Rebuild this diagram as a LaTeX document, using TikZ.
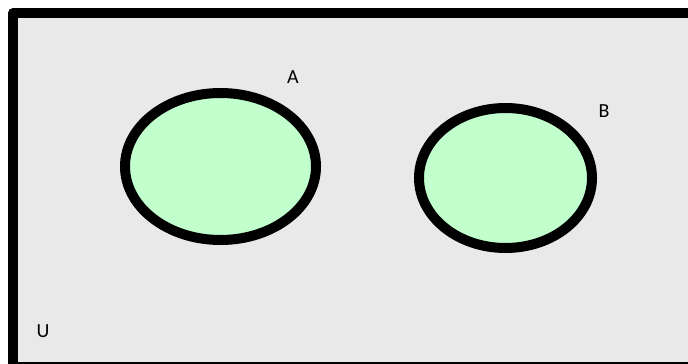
\documentclass[tikz,border=0pt]{standalone}
\usepackage{fontspec}
\setmainfont{Carlito}
\usetikzlibrary{positioning}
\definecolor{univgray}{RGB}{233,233,233}
\definecolor{setgreen}{RGB}{193,255,205}

\begin{document}
\begin{tikzpicture}[x=1pt,y=-1pt,line join=round]
\useasboundingbox (0,0) rectangle (688,364);
\fill[white] (0,0) rectangle (688,364);
\begin{scope}
    \clip (0,0) rectangle (688,364);
    \draw[line width=10pt,fill=univgray] (13,13) rectangle (700,367);
\end{scope}
\draw[line width=10pt,fill=setgreen] (220.5,166.5) ellipse (95.5 and 73.5);
\draw[line width=10pt,fill=setgreen] (505.5,178) ellipse (86.5 and 70);
\node[font=\fontsize{20}{20}\selectfont] (labA) at (293,77) {A};
\node[font=\fontsize{20}{20}\selectfont] (labB) at (604,111) {B};
\node[font=\fontsize{20}{20}\selectfont] (labU) at (43,331) {U};
\end{tikzpicture}
\end{document}
